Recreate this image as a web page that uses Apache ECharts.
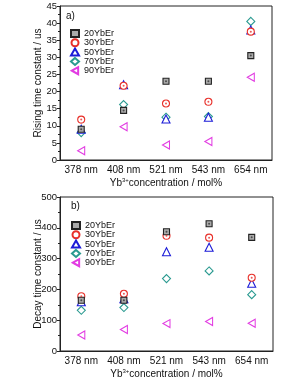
<!DOCTYPE html>
<html><head><meta charset="utf-8">
<script src="https://cdn.jsdelivr.net/npm/echarts@6/dist/echarts.min.js"></script>
<style>html,body{margin:0;padding:0;background:#fff}#c{width:303px;height:387px}</style>
</head><body><div id="c"></div>
<script>
const categories = ['378 nm','408 nm','521 nm','543 nm','654 nm'];
const seriesNames = ['20YbEr','30YbEr','50YbEr','70YbEr','90YbEr'];
const yTicksRise = [0,5,10,15,20,25,30,35,40,45];
const yTicksDecay = [0,100,200,300,400,500];
// Rising time constant (us)
const rise20 = [9, 14.5, 23, 23, 30.5];
const rise30 = [11.8, 21.7, 16.5, 17, 37.5];
const rise50 = [9, 22, 12, 12.5, 38];
const rise70 = [8, 16.2, 12.5, 12.7, 40.5];
const rise90 = [2.7, 9.7, 4.4, 5.4, 24.2];
// Decay time constant (us)
const decay20 = [165, 165, 387, 413, 369];
const decay30 = [178, 186, 374, 368, 238];
const decay50 = [160, 170, 322, 337, 220];
const decay70 = [132, 141, 235, 260, 183];
const decay90 = [52, 70, 89, 96, 90];

const styles = [
  {symbol:'rect', size:6, border:'#222', fill:'#aaa', dot:'#333'},
  {symbol:'circle', size:7, border:'#e8302a', fill:'#fff', dot:'#e8302a'},
  {symbol:'triangle', size:8, border:'#1c1cd8', fill:'#fff'},
  {symbol:'diamond', size:8, border:'#2a9a90', fill:'#fff'},
  {symbol:'path://M0,5 L9,0 L9,10 Z', size:[7,8], border:'#e23ce2', fill:'#fff'}
];
const riseData = [rise20, rise30, rise50, rise70, rise90];
const decayData = [decay20, decay30, decay50, decay70, decay90];

const font = 'Liberation Sans, Arial, sans-serif';
const series = [];
[riseData, decayData].forEach((set, gi) => {
  set.forEach((vals, i) => {
    const s = styles[i];
    series.push({
      type:'scatter', name: seriesNames[i], xAxisIndex: gi, yAxisIndex: gi,
      data: vals, symbol: s.symbol, symbolSize: s.size,
      itemStyle: {color: s.fill, borderColor: s.border, borderWidth: 1.1, opacity: 1},
      z: 10 - i
    });
    if (s.dot) {
      series.push({
        type:'scatter', name: seriesNames[i] + '_dot', xAxisIndex: gi, yAxisIndex: gi,
        data: vals, symbol: 'circle', symbolSize: 2,
        itemStyle: {color: s.dot}, z: 11 - i, silent: true
      });
    }
  });
});

function xAxis(gi) {
  return {
    type:'category', data: categories, gridIndex: gi, boundaryGap: true,
    axisLine:{lineStyle:{color:'#222', width:1}},
    axisTick:{alignWithLabel:true, length:3, lineStyle:{color:'#222'}},
    axisLabel:{color:'#111', fontSize:10, fontFamily: font, margin:5, interval:0},
    name: '{a|Yb}{s|3+}{a|concentration / mol%}', nameLocation:'middle', nameGap: 17,
    nameMoveOverlap: false,
    nameTextStyle:{rich:{a:{fontSize:10, color:'#111', fontFamily:font}, s:{fontSize:6, color:'#111', fontFamily:font, verticalAlign:'top', padding:[0,0,6,0]}}},
    splitLine:{show:false}
  };
}
function yAxis(gi, ticks, name) {
  return {
    type:'value', gridIndex: gi, min: ticks[0], max: ticks[ticks.length-1], interval: ticks[1]-ticks[0],
    axisLine:{show:true, lineStyle:{color:'#222', width:1}},
    axisTick:{show:true, length:3, lineStyle:{color:'#222'}},
    minorTick:{show:true, splitNumber:2, length:2, lineStyle:{color:'#222'}},
    axisLabel:{color:'#111', fontSize:9.5, fontFamily: font, margin:3},
    splitLine:{show:false},
    name: name, nameLocation:'middle', nameGap: 17, nameMoveOverlap: false,
    nameTextStyle:{fontSize:10, color:'#111', fontFamily: font}
  };
}
function legend(top, left) {
  return {
    data: seriesNames, orient:'vertical', left: left, top: top,
    itemWidth: 8, itemHeight: 7, itemGap: 0.3,
    textStyle:{fontSize:9, color:'#111', fontFamily: font, lineHeight: 9},
    selectedMode: false, padding: 0
  };
}

const chart = echarts.init(document.getElementById('c'), null, {renderer:'canvas'});
chart.setOption({
  animation:false,
  backgroundColor:'#fff',
  grid:[
    {left:60, top:6, width:212, height:154, show:true, borderColor:'#222', borderWidth:1, backgroundColor:'transparent'},
    {left:60, top:197, width:213, height:154, show:true, borderColor:'#222', borderWidth:1, backgroundColor:'transparent'}
  ],
  xAxis:[xAxis(0), xAxis(1)],
  yAxis:[yAxis(0, yTicksRise, 'Rising time constant / us'), yAxis(1, yTicksDecay, 'Decay time constant / us')],
  legend:[legend(29, 70), legend(221, 71)],
  graphic:[
    {type:'text', left:66, top:11, style:{text:'a)', fontSize:10, fill:'#111', fontFamily:font}},
    {type:'text', left:71, top:201, style:{text:'b)', fontSize:10, fill:'#111', fontFamily:font}}
  ],
  series: series
});
</script></body></html>
